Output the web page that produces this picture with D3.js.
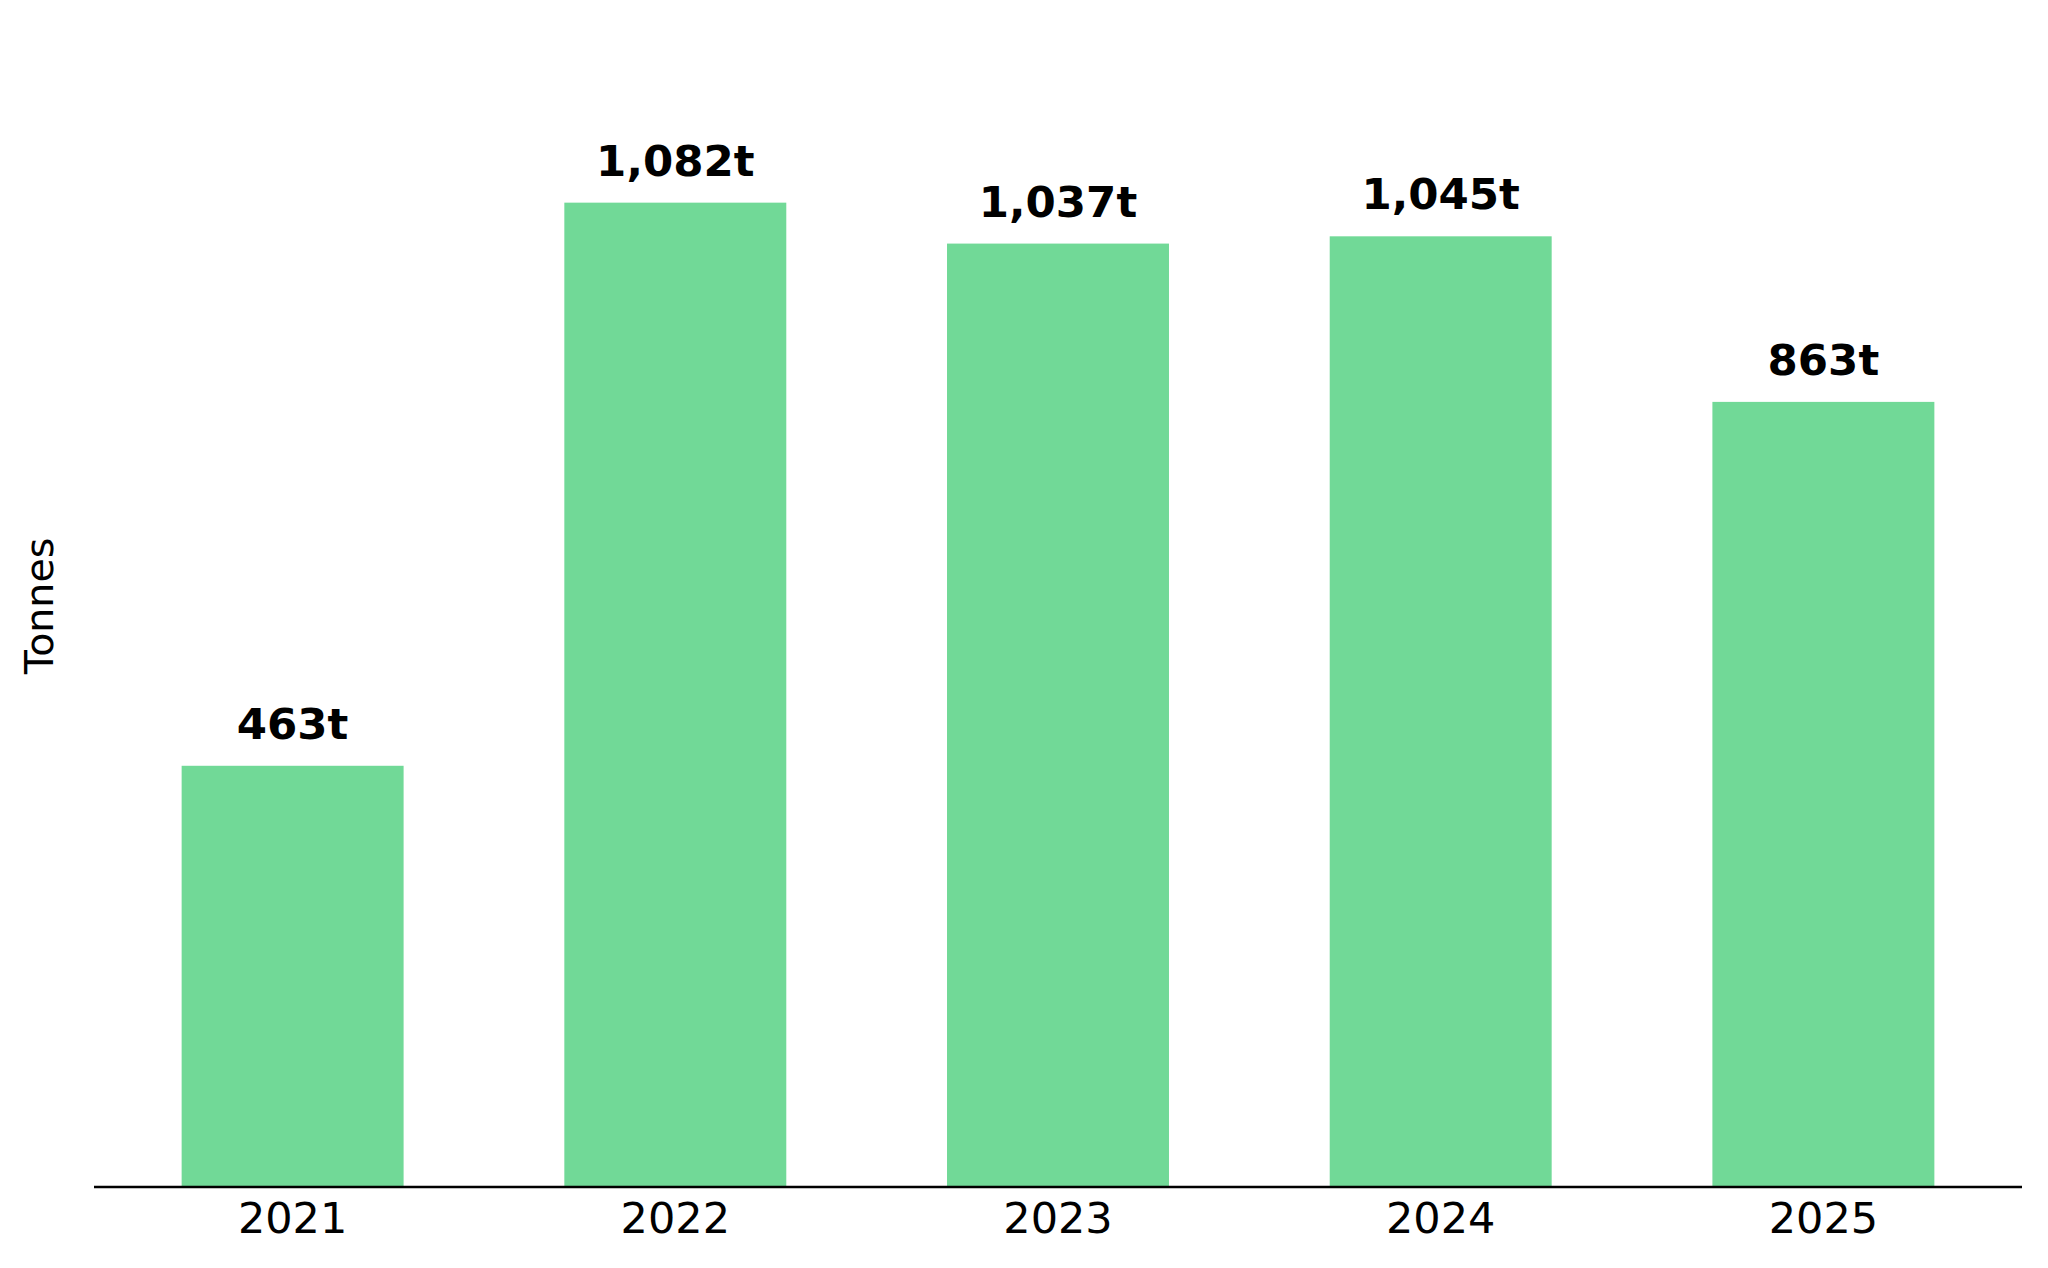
<!DOCTYPE html>
<html>
<head>
<meta charset="utf-8">
<script src="https://cdn.jsdelivr.net/npm/d3@7"></script>
<style>
  html, body { margin: 0; padding: 0; background: #ffffff; }
  svg { display: block; font-family: "DejaVu Sans", sans-serif; }
</style>
</head>
<body>
<svg id="chart" width="2048" height="1268"></svg>
<script>
const years = ["2021", "2022", "2023", "2024", "2025"];
const tonnes = [463, 1082, 1037, 1045, 863];
const valueLabels = ["463t", "1,082t", "1,037t", "1,045t", "863t"];
const yAxisTitle = "Tonnes";

const W = 2048, H = 1268;
const plot = { left: 94, right: 2022, top: 55, bottom: 1187 };
const barColor = "#71d997";

const svg = d3.select("#chart");

const x = d3.scaleBand()
  .domain(years)
  .range([plot.left, plot.right])
  .paddingInner(0.42)
  .paddingOuter(0.229);

const y = d3.scaleLinear()
  .domain([0, 1244.3])
  .range([plot.bottom, plot.top]);

// Bars
svg.append("g").selectAll("rect")
  .data(years)
  .join("rect")
  .attr("x", d => x(d))
  .attr("width", x.bandwidth())
  .attr("y", (d, i) => y(tonnes[i]))
  .attr("height", (d, i) => y(0) - y(tonnes[i]))
  .attr("fill", barColor);

// Value labels
svg.append("g").selectAll("text")
  .data(years)
  .join("text")
  .attr("x", d => x(d) + x.bandwidth() / 2)
  .attr("y", (d, i) => y(tonnes[i]) - 27)
  .attr("text-anchor", "middle")
  .attr("font-size", 43.5)
  .attr("font-weight", "bold")
  .attr("fill", "#000")
  .text((d, i) => valueLabels[i]);

// X axis
const xAxis = d3.axisBottom(x).tickSize(0).tickPadding(15);
const gx = svg.append("g")
  .attr("transform", `translate(0,${plot.bottom})`)
  .call(xAxis);
gx.select(".domain").attr("stroke", "#000").attr("stroke-width", 2.6)
  .attr("d", `M${plot.left},0H${plot.right}`);
gx.selectAll(".tick text")
  .attr("font-size", 43)
  .attr("font-family", "DejaVu Sans, sans-serif")
  .attr("fill", "#000");

// Y axis title
svg.append("text")
  .attr("transform", `translate(53,606) rotate(-90)`)
  .attr("text-anchor", "middle")
  .attr("font-size", 39.5)
  .attr("fill", "#000")
  .text(yAxisTitle);
</script>
</body>
</html>
